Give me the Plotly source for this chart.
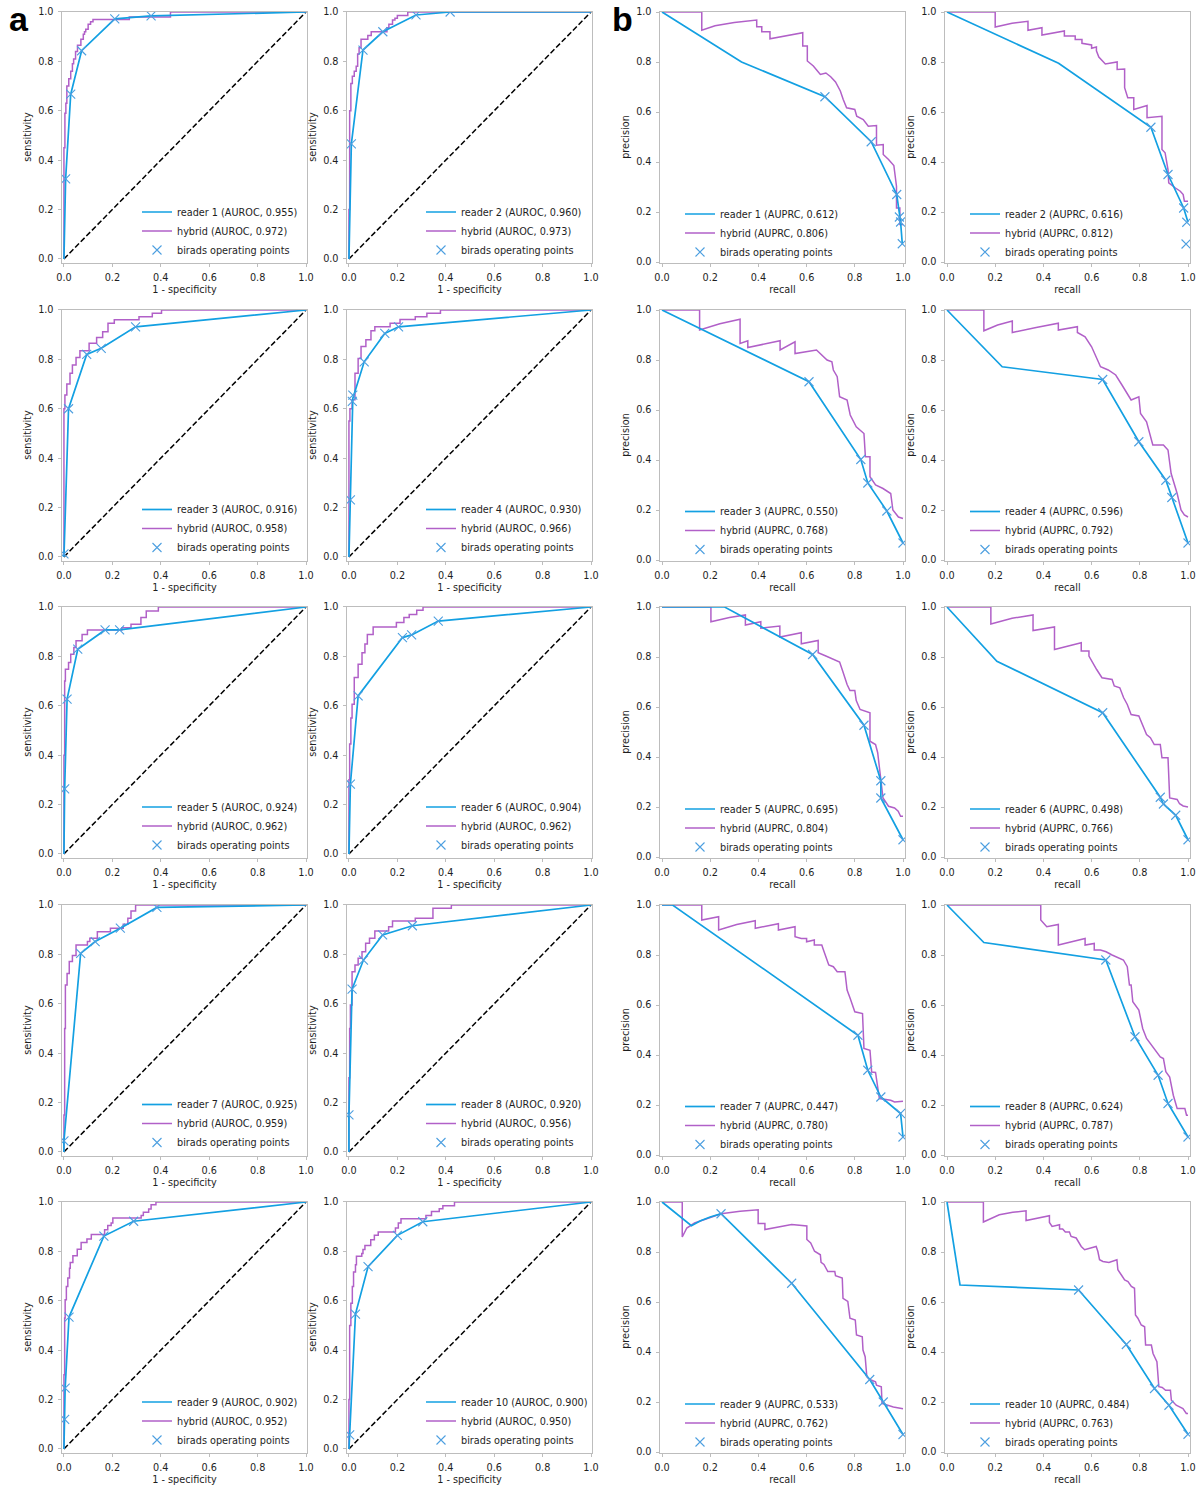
import plotly.graph_objects as go

# ---------------- data ----------------
reader_auroc = [0.955, 0.960, 0.916, 0.930, 0.924, 0.904, 0.925, 0.920, 0.902, 0.900]
hybrid_auroc = [0.972, 0.973, 0.958, 0.966, 0.962, 0.962, 0.959, 0.956, 0.952, 0.950]
reader_auprc = [0.612, 0.616, 0.550, 0.596, 0.695, 0.498, 0.447, 0.624, 0.533, 0.484]
hybrid_auprc = [0.806, 0.812, 0.768, 0.792, 0.804, 0.766, 0.780, 0.787, 0.762, 0.763]
tick_vals = [0.0, 0.2, 0.4, 0.6, 0.8, 1.0]
tick_text = ["0.0", "0.2", "0.4", "0.6", "0.8", "1.0"]
chance_line = [0.0, 1.0]

# ROC reader curves (fpr, tpr)
reader1_roc = [(0, 0), (0.007, 0.324), (0.028, 0.667), (0.073, 0.843), (0.21, 0.972), (0.36, 0.984), (1, 1)]
reader2_roc = [(0, 0), (0.01, 0.466), (0.058, 0.846), (0.14, 0.92), (0.277, 0.988), (0.418, 1.0), (1, 1)]
reader3_roc = [(0, 0), (0.019, 0.6), (0.094, 0.82), (0.154, 0.845), (0.296, 0.932), (1, 1)]
reader4_roc = [(0, 0), (0.006, 0.231), (0.016, 0.642), (0.063, 0.79), (0.148, 0.905), (0.205, 0.932), (1, 1)]
reader5_roc = [(0, 0), (0.003, 0.263), (0.013, 0.627), (0.057, 0.829), (0.17, 0.907), (0.23, 0.907), (1, 1)]
reader6_roc = [(0, 0), (0.006, 0.283), (0.038, 0.64), (0.221, 0.876), (0.259, 0.887), (0.369, 0.943), (1, 1)]
reader7_roc = [(0, 0), (0.0, 0.045), (0.069, 0.804), (0.129, 0.852), (0.233, 0.906), (0.384, 0.99), (1, 1)]
reader8_roc = [(0, 0), (0.0, 0.15), (0.013, 0.659), (0.06, 0.777), (0.139, 0.879), (0.262, 0.916), (1, 1)]
reader9_roc = [(0, 0), (0.003, 0.12), (0.005, 0.246), (0.021, 0.534), (0.165, 0.862), (0.288, 0.922), (1, 1)]
reader10_roc = [(0, 0), (0.003, 0.057), (0.027, 0.546), (0.079, 0.738), (0.2, 0.865), (0.305, 0.92), (1, 1)]

# ROC birads operating points
reader1_roc_ops = [(0.007, 0.324), (0.028, 0.667), (0.073, 0.843), (0.21, 0.972), (0.36, 0.984)]
reader2_roc_ops = [(0.01, 0.466), (0.058, 0.846), (0.14, 0.92), (0.277, 0.988), (0.418, 1.0)]
reader3_roc_ops = [(0.0, 0.012), (0.019, 0.6), (0.094, 0.82), (0.154, 0.845), (0.296, 0.932)]
reader4_roc_ops = [(0.006, 0.231), (0.014, 0.63), (0.016, 0.655), (0.063, 0.79), (0.148, 0.905), (0.205, 0.932)]
reader5_roc_ops = [(0.003, 0.263), (0.013, 0.627), (0.057, 0.829), (0.17, 0.907), (0.23, 0.907)]
reader6_roc_ops = [(0.006, 0.283), (0.038, 0.64), (0.221, 0.876), (0.259, 0.887), (0.369, 0.943)]
reader7_roc_ops = [(0.0, 0.045), (0.069, 0.804), (0.129, 0.852), (0.233, 0.906), (0.384, 0.99)]
reader8_roc_ops = [(0.0, 0.15), (0.013, 0.659), (0.06, 0.777), (0.139, 0.879), (0.262, 0.916)]
reader9_roc_ops = [(0.003, 0.12), (0.005, 0.246), (0.021, 0.534), (0.165, 0.862), (0.288, 0.922)]
reader10_roc_ops = [(0.003, 0.057), (0.027, 0.546), (0.079, 0.738), (0.2, 0.865), (0.305, 0.92)]

# ROC hybrid staircase corners (fpr, tpr), drawn with horizontal-then-vertical steps
hybrid1_roc = [(0, 0), (0, 0.45), (0.004, 0.59), (0.008, 0.63), (0.012, 0.7), (0.02, 0.73), (0.028, 0.76),
               (0.035, 0.79), (0.04, 0.81), (0.048, 0.84), (0.056, 0.865), (0.07, 0.89), (0.08, 0.91),
               (0.085, 0.92), (0.09, 0.93), (0.1, 0.95), (0.11, 0.96), (0.12, 0.97), (0.27, 0.98),
               (0.44, 1.0), (1.0, 1.0)]
hybrid2_roc = [(0, 0), (0, 0.2), (0.003, 0.6), (0.008, 0.71), (0.014, 0.74), (0.022, 0.76), (0.03, 0.78),
               (0.036, 0.83), (0.042, 0.855), (0.05, 0.89), (0.078, 0.905), (0.092, 0.92), (0.157, 0.936),
               (0.165, 0.95), (0.18, 0.968), (0.19, 0.975), (0.2, 0.986), (0.243, 1.0), (1.0, 1.0)]
hybrid3_roc = [(0, 0), (0, 0.6), (0.004, 0.656), (0.012, 0.7), (0.025, 0.744), (0.035, 0.777), (0.05, 0.808),
               (0.066, 0.835), (0.104, 0.865), (0.135, 0.889), (0.16, 0.912), (0.182, 0.946), (0.208, 0.96),
               (0.31, 0.973), (0.365, 0.987), (0.403, 1.0), (1.0, 1.0)]
hybrid4_roc = [(0, 0), (0, 0.55), (0.004, 0.6), (0.013, 0.636), (0.025, 0.744), (0.038, 0.804), (0.05, 0.852),
               (0.07, 0.879), (0.091, 0.916), (0.107, 0.932), (0.17, 0.946), (0.211, 0.962), (0.274, 0.973),
               (0.322, 0.987), (0.378, 1.0), (1.0, 1.0)]
hybrid5_roc = [(0, 0), (0, 0.4), (0.003, 0.7), (0.006, 0.748), (0.019, 0.775), (0.028, 0.809), (0.041, 0.836),
               (0.05, 0.863), (0.075, 0.889), (0.097, 0.907), (0.239, 0.916), (0.277, 0.93), (0.318, 0.957),
               (0.34, 0.984), (0.39, 1.0), (1.0, 1.0)]
hybrid6_roc = [(0, 0), (0, 0.3), (0.003, 0.445), (0.008, 0.55), (0.013, 0.606), (0.022, 0.714), (0.038, 0.768),
               (0.054, 0.815), (0.066, 0.85), (0.076, 0.889), (0.1, 0.919), (0.196, 0.937), (0.227, 0.957),
               (0.249, 0.97), (0.28, 0.987), (0.306, 1.0), (1.0, 1.0)]
hybrid7_roc = [(0, 0), (0, 0.15), (0.003, 0.5), (0.006, 0.676), (0.013, 0.723), (0.022, 0.771), (0.035, 0.795),
               (0.05, 0.838), (0.097, 0.852), (0.107, 0.865), (0.138, 0.892), (0.192, 0.906), (0.245, 0.922),
               (0.264, 0.946), (0.277, 0.976), (0.296, 1.0), (1.0, 1.0)]
hybrid8_roc = [(0, 0), (0, 0.3), (0.003, 0.5), (0.006, 0.595), (0.013, 0.73), (0.025, 0.757), (0.038, 0.784),
               (0.054, 0.811), (0.069, 0.845), (0.085, 0.865), (0.107, 0.895), (0.164, 0.912), (0.18, 0.935),
               (0.274, 0.946), (0.347, 0.987), (0.423, 1.0), (1.0, 1.0)]
hybrid9_roc = [(0, 0), (0, 0.3), (0.003, 0.53), (0.005, 0.604), (0.01, 0.658), (0.016, 0.692), (0.023, 0.732),
               (0.026, 0.755), (0.037, 0.782), (0.055, 0.809), (0.071, 0.836), (0.095, 0.85), (0.113, 0.868),
               (0.168, 0.888), (0.181, 0.905), (0.195, 0.915), (0.202, 0.935), (0.319, 0.945), (0.328, 0.958),
               (0.35, 0.972), (0.36, 0.989), (0.38, 1.0), (1.0, 1.0)]
hybrid10_roc = [(0, 0), (0, 0.2), (0.003, 0.5), (0.008, 0.59), (0.014, 0.658), (0.019, 0.716), (0.027, 0.746),
                (0.031, 0.78), (0.053, 0.791), (0.058, 0.808), (0.066, 0.824), (0.09, 0.847), (0.105, 0.865),
                (0.121, 0.878), (0.192, 0.895), (0.204, 0.915), (0.215, 0.932), (0.318, 0.945), (0.341, 0.962),
                (0.373, 0.973), (0.388, 0.985), (0.436, 1.0), (1.0, 1.0)]

# PR reader curves (recall, precision)
reader1_pr = [(0, 1), (0.33, 0.8), (0.676, 0.661), (0.868, 0.481), (0.974, 0.27), (0.985, 0.18), (0.99, 0.16), (0.997, 0.073)]
reader2_pr = [(0, 1), (0.463, 0.795), (0.846, 0.539), (0.917, 0.35), (0.982, 0.216), (1.0, 0.159)]
reader3_pr = [(0, 1), (0.61, 0.713), (0.825, 0.402), (0.854, 0.308), (0.933, 0.196), (1.0, 0.068)]
reader4_pr = [(0, 1), (0.229, 0.773), (0.646, 0.722), (0.796, 0.473), (0.908, 0.319), (0.933, 0.25), (1.0, 0.068)]
reader5_pr = [(0, 1), (0.26, 1.0), (0.625, 0.81), (0.838, 0.527), (0.908, 0.305), (0.908, 0.236), (1.0, 0.069)]
reader6_pr = [(0, 1), (0.207, 0.783), (0.646, 0.577), (0.885, 0.239), (0.898, 0.212), (0.949, 0.167), (1.0, 0.069)]
reader7_pr = [(0, 1), (0.044, 1.0), (0.813, 0.479), (0.854, 0.339), (0.908, 0.232), (0.99, 0.166), (1.0, 0.072)]
reader8_pr = [(0, 1), (0.153, 0.85), (0.659, 0.78), (0.78, 0.473), (0.876, 0.319), (0.917, 0.206), (1.0, 0.072)]
reader9_pr = [(0, 1), (0.122, 0.905), (0.16, 0.925), (0.2, 0.94), (0.245, 0.953), (0.538, 0.675), (0.862, 0.29), (0.918, 0.2), (1.0, 0.07)]
reader10_pr = [(0, 1), (0.054, 0.668), (0.546, 0.648), (0.744, 0.43), (0.861, 0.254), (0.921, 0.187), (1.0, 0.071)]

# PR birads operating points
reader1_pr_ops = [(0.676, 0.661), (0.868, 0.481), (0.974, 0.27), (0.985, 0.18), (0.99, 0.16), (0.997, 0.073)]
reader2_pr_ops = [(0.846, 0.539), (0.917, 0.35), (0.982, 0.216), (0.995, 0.159), (0.992, 0.072)]
reader3_pr_ops = [(0.61, 0.713), (0.825, 0.402), (0.854, 0.308), (0.933, 0.196), (1.0, 0.068)]
reader4_pr_ops = [(0.646, 0.722), (0.796, 0.473), (0.908, 0.319), (0.933, 0.25), (1.0, 0.068)]
reader5_pr_ops = [(0.625, 0.81), (0.838, 0.527), (0.908, 0.305), (0.908, 0.236), (1.0, 0.069)]
reader6_pr_ops = [(0.646, 0.577), (0.885, 0.239), (0.898, 0.212), (0.949, 0.167), (1.0, 0.069)]
reader7_pr_ops = [(0.813, 0.479), (0.854, 0.339), (0.908, 0.232), (0.99, 0.166), (1.0, 0.072)]
reader8_pr_ops = [(0.659, 0.78), (0.78, 0.473), (0.876, 0.319), (0.917, 0.206), (1.0, 0.072)]
reader9_pr_ops = [(0.245, 0.953), (0.538, 0.675), (0.862, 0.29), (0.918, 0.2), (1.0, 0.07)]
reader10_pr_ops = [(0.546, 0.648), (0.744, 0.43), (0.861, 0.254), (0.921, 0.187), (1.0, 0.071)]

# PR hybrid curves (recall, precision)
hybrid1_pr = [(0, 1), (0.165, 1), (0.165, 0.927), (0.22, 0.945), (0.3, 0.958), (0.393, 0.968), (0.393, 0.941),
              (0.414, 0.941), (0.414, 0.921), (0.448, 0.921), (0.448, 0.893), (0.52, 0.905), (0.584, 0.917),
              (0.584, 0.864), (0.603, 0.864), (0.603, 0.804), (0.615, 0.794), (0.628, 0.784), (0.64, 0.77),
              (0.657, 0.75), (0.68, 0.756), (0.7, 0.741), (0.72, 0.72), (0.74, 0.684), (0.752, 0.65),
              (0.766, 0.617), (0.8, 0.61), (0.808, 0.583), (0.835, 0.57), (0.856, 0.543), (0.89, 0.546),
              (0.89, 0.467), (0.918, 0.47), (0.918, 0.43), (0.94, 0.41), (0.953, 0.397), (0.962, 0.386),
              (0.973, 0.303), (0.973, 0.216), (0.987, 0.216), (0.987, 0.15), (1.0, 0.15)]
hybrid2_pr = [(0, 1), (0.2, 1), (0.2, 0.94), (0.27, 0.955), (0.336, 0.963), (0.336, 0.927), (0.394, 0.937),
              (0.394, 0.908), (0.487, 0.924), (0.487, 0.904), (0.532, 0.904), (0.532, 0.89), (0.56, 0.89),
              (0.56, 0.875), (0.6, 0.868), (0.6, 0.855), (0.62, 0.86), (0.62, 0.845), (0.63, 0.82),
              (0.64, 0.808), (0.657, 0.792), (0.706, 0.8), (0.706, 0.77), (0.737, 0.772), (0.737, 0.697),
              (0.75, 0.657), (0.775, 0.657), (0.775, 0.61), (0.83, 0.626), (0.83, 0.577), (0.892, 0.583),
              (0.892, 0.45), (0.905, 0.437), (0.917, 0.37), (0.92, 0.317), (0.948, 0.296), (0.968, 0.283),
              (0.98, 0.27), (0.985, 0.243), (1.0, 0.243)]
hybrid3_pr = [(0, 1), (0.156, 1), (0.156, 0.92), (0.24, 0.945), (0.324, 0.963), (0.324, 0.866), (0.356, 0.877),
              (0.356, 0.85), (0.49, 0.877), (0.49, 0.84), (0.552, 0.873), (0.552, 0.826), (0.641, 0.84),
              (0.665, 0.82), (0.685, 0.8), (0.705, 0.793), (0.711, 0.76), (0.727, 0.733), (0.737, 0.653),
              (0.768, 0.64), (0.781, 0.58), (0.806, 0.533), (0.838, 0.506), (0.844, 0.413), (0.863, 0.413),
              (0.863, 0.333), (0.886, 0.3), (0.917, 0.286), (0.949, 0.266), (0.958, 0.2), (0.981, 0.172),
              (1.0, 0.166)]
hybrid4_pr = [(0, 1), (0.153, 1), (0.153, 0.917), (0.21, 0.94), (0.271, 0.956), (0.271, 0.91), (0.37, 0.93),
              (0.462, 0.947), (0.462, 0.92), (0.541, 0.933), (0.541, 0.91), (0.573, 0.893), (0.6, 0.853),
              (0.62, 0.813), (0.637, 0.773), (0.669, 0.76), (0.7, 0.74), (0.726, 0.7), (0.748, 0.666),
              (0.764, 0.64), (0.796, 0.653), (0.803, 0.586), (0.828, 0.553), (0.844, 0.5), (0.854, 0.46),
              (0.898, 0.46), (0.917, 0.44), (0.93, 0.346), (0.955, 0.266), (0.971, 0.2), (0.985, 0.18),
              (1.0, 0.172)]
hybrid5_pr = [(0, 1), (0.203, 1), (0.203, 0.941), (0.28, 0.958), (0.346, 0.968), (0.346, 0.928), (0.41, 0.941),
              (0.41, 0.915), (0.489, 0.924), (0.489, 0.88), (0.578, 0.897), (0.578, 0.853), (0.648, 0.866),
              (0.648, 0.817), (0.68, 0.804), (0.711, 0.79), (0.737, 0.78), (0.75, 0.743), (0.768, 0.69),
              (0.78, 0.666), (0.8, 0.666), (0.806, 0.626), (0.822, 0.59), (0.863, 0.577), (0.863, 0.463),
              (0.886, 0.45), (0.895, 0.417), (0.908, 0.31), (0.917, 0.236), (0.94, 0.203), (0.965, 0.196),
              (0.98, 0.183), (0.99, 0.163), (1.0, 0.163)]
hybrid6_pr = [(0, 1), (0.182, 1), (0.182, 0.932), (0.27, 0.955), (0.357, 0.968), (0.357, 0.906), (0.446, 0.92),
              (0.446, 0.83), (0.557, 0.857), (0.557, 0.824), (0.589, 0.824), (0.589, 0.804), (0.621, 0.75),
              (0.643, 0.717), (0.685, 0.71), (0.694, 0.684), (0.717, 0.677), (0.733, 0.637), (0.748, 0.61),
              (0.764, 0.57), (0.796, 0.564), (0.812, 0.524), (0.828, 0.49), (0.844, 0.477), (0.86, 0.45),
              (0.885, 0.45), (0.892, 0.397), (0.917, 0.397), (0.924, 0.236), (0.955, 0.23), (0.965, 0.213),
              (0.98, 0.204), (1.0, 0.2)]
hybrid7_pr = [(0, 1), (0.165, 1), (0.165, 0.94), (0.235, 0.953), (0.235, 0.9), (0.31, 0.922), (0.387, 0.937),
              (0.387, 0.907), (0.483, 0.925), (0.483, 0.9), (0.552, 0.913), (0.552, 0.873), (0.578, 0.866),
              (0.6, 0.866), (0.6, 0.853), (0.632, 0.86), (0.632, 0.84), (0.663, 0.84), (0.67, 0.82),
              (0.683, 0.786), (0.692, 0.76), (0.711, 0.753), (0.727, 0.733), (0.759, 0.733), (0.768, 0.66),
              (0.781, 0.626), (0.8, 0.573), (0.832, 0.566), (0.838, 0.426), (0.863, 0.419), (0.87, 0.332),
              (0.886, 0.33), (0.895, 0.272), (0.902, 0.226), (0.949, 0.219), (0.965, 0.212), (1.0, 0.215)]
hybrid8_pr = [(0, 1), (0.389, 1), (0.389, 0.94), (0.414, 0.913), (0.462, 0.922), (0.462, 0.84), (0.573, 0.866),
              (0.573, 0.84), (0.611, 0.846), (0.611, 0.82), (0.637, 0.82), (0.66, 0.813), (0.685, 0.8),
              (0.71, 0.789), (0.732, 0.78), (0.748, 0.753), (0.757, 0.68), (0.764, 0.68), (0.771, 0.613),
              (0.796, 0.58), (0.812, 0.506), (0.828, 0.466), (0.844, 0.446), (0.86, 0.426), (0.885, 0.392),
              (0.898, 0.386), (0.908, 0.333), (0.924, 0.312), (0.939, 0.239), (0.955, 0.186), (0.987, 0.186),
              (0.994, 0.159), (1.0, 0.159)]
hybrid9_pr = [(0, 1), (0.084, 1), (0.084, 0.86), (0.103, 0.896), (0.135, 0.916), (0.182, 0.932), (0.245, 0.953),
              (0.324, 0.963), (0.399, 0.969), (0.399, 0.914), (0.427, 0.914), (0.427, 0.89), (0.538, 0.91),
              (0.601, 0.904), (0.601, 0.85), (0.617, 0.836), (0.633, 0.803), (0.657, 0.789), (0.66, 0.759),
              (0.672, 0.75), (0.688, 0.722), (0.717, 0.722), (0.72, 0.705), (0.748, 0.696), (0.751, 0.615),
              (0.771, 0.602), (0.78, 0.535), (0.802, 0.528), (0.807, 0.468), (0.831, 0.461), (0.834, 0.408),
              (0.843, 0.381), (0.85, 0.301), (0.862, 0.29), (0.886, 0.281), (0.89, 0.267), (0.91, 0.261),
              (0.913, 0.194), (0.94, 0.187), (0.96, 0.18), (1.0, 0.173)]
hybrid10_pr = [(0, 1), (0.151, 1), (0.151, 0.92), (0.217, 0.949), (0.273, 0.959), (0.328, 0.965), (0.328, 0.926),
               (0.425, 0.945), (0.425, 0.918), (0.436, 0.902), (0.467, 0.909), (0.467, 0.892), (0.48, 0.892),
               (0.491, 0.88), (0.508, 0.88), (0.515, 0.862), (0.536, 0.856), (0.547, 0.836), (0.557, 0.822),
               (0.571, 0.809), (0.619, 0.822), (0.626, 0.802), (0.633, 0.769), (0.647, 0.762), (0.672, 0.758),
               (0.705, 0.769), (0.709, 0.729), (0.723, 0.709), (0.737, 0.688), (0.751, 0.682), (0.765, 0.662),
               (0.778, 0.655), (0.782, 0.548), (0.792, 0.535), (0.806, 0.508), (0.82, 0.501), (0.824, 0.428),
               (0.848, 0.428), (0.855, 0.394), (0.871, 0.361), (0.879, 0.261), (0.893, 0.258), (0.907, 0.247),
               (0.927, 0.247), (0.931, 0.207), (0.951, 0.187), (0.979, 0.174), (0.993, 0.154), (1.0, 0.154)]

reader_roc = [reader1_roc, reader2_roc, reader3_roc, reader4_roc, reader5_roc,
              reader6_roc, reader7_roc, reader8_roc, reader9_roc, reader10_roc]
reader_roc_ops = [reader1_roc_ops, reader2_roc_ops, reader3_roc_ops, reader4_roc_ops, reader5_roc_ops,
                  reader6_roc_ops, reader7_roc_ops, reader8_roc_ops, reader9_roc_ops, reader10_roc_ops]
hybrid_roc = [hybrid1_roc, hybrid2_roc, hybrid3_roc, hybrid4_roc, hybrid5_roc,
              hybrid6_roc, hybrid7_roc, hybrid8_roc, hybrid9_roc, hybrid10_roc]
reader_pr = [reader1_pr, reader2_pr, reader3_pr, reader4_pr, reader5_pr,
             reader6_pr, reader7_pr, reader8_pr, reader9_pr, reader10_pr]
reader_pr_ops = [reader1_pr_ops, reader2_pr_ops, reader3_pr_ops, reader4_pr_ops, reader5_pr_ops,
                 reader6_pr_ops, reader7_pr_ops, reader8_pr_ops, reader9_pr_ops, reader10_pr_ops]
hybrid_pr = [hybrid1_pr, hybrid2_pr, hybrid3_pr, hybrid4_pr, hybrid5_pr,
             hybrid6_pr, hybrid7_pr, hybrid8_pr, hybrid9_pr, hybrid10_pr]

# ---------------- styling / layout ----------------
W, H = 1198, 1485
BLUE = "#13a0e2"
PURPLE = "#b160c8"
MARK = "#4d9fe0"
FRAME = "#bdbdbd"
TXT = "#1e1e1e"
FONT = "DejaVu Sans"
FS = 9.7

col_frames = [(62, 307), (347, 592), (660, 905), (945, 1190)]
row_tops = [11.5, 309.5, 606.5, 904.5, 1201.5]
FRAME_H = 251
legend_text_x = [178, 462, 721, 1006]
legend_mid_y = {"roc": 231, "pr": 233}
ROW_STEP = 297.5


def unzip(pts):
    return [p[0] for p in pts], [p[1] for p in pts]


fig = go.Figure()
layout = dict(width=W, height=H, margin=dict(l=0, r=0, t=0, b=0, pad=0, autoexpand=False),
              paper_bgcolor="white", plot_bgcolor="white",
              font=dict(family=FONT, size=FS, color=TXT))

axis_base = dict(showline=True, mirror=True, linecolor=FRAME, linewidth=1,
                 ticks="outside", ticklen=3.5, tickwidth=1, tickcolor=FRAME,
                 showgrid=False, zeroline=False, tickvals=tick_vals, ticktext=tick_text,
                 tickfont=dict(family=FONT, size=FS, color=TXT), fixedrange=True,
                 automargin=False, ticklabelstandoff=2)

for k in range(10):
    row = k // 2
    for kind in ("roc", "pr"):
        col = (k % 2) + (0 if kind == "roc" else 2)
        n = row * 4 + col + 1
        xa = "x" if n == 1 else f"x{n}"
        ya = "y" if n == 1 else f"y{n}"
        lg = "legend" if n == 1 else f"legend{n}"
        x0, x1 = col_frames[col]
        top = row_tops[row]
        xdom = [x0 / W, x1 / W]
        ydom = [1 - (top + FRAME_H) / H, 1 - top / H]
        if kind == "roc":
            xr, yr = [-0.008, 1.004], [-0.0145, 1.002]
            xt, yt = "1 - specificity", "sensitivity"
        else:
            xr, yr = [-0.0083, 1.0083], [-0.002, 1.002]
            xt, yt = "recall", "precision"
        layout["xaxis" if n == 1 else f"xaxis{n}"] = dict(
            axis_base, domain=xdom, range=xr, anchor=ya,
            title=dict(text=xt, font=dict(family=FONT, size=FS, color=TXT), standoff=4))
        layout["yaxis" if n == 1 else f"yaxis{n}"] = dict(
            axis_base, domain=ydom, range=yr, anchor=xa,
            title=dict(text=yt, font=dict(family=FONT, size=FS, color=TXT), standoff=4))
        ly = legend_mid_y[kind] + row * ROW_STEP
        layout[lg] = dict(x=(legend_text_x[col] - 41) / W, y=1 - ly / H,
                          xanchor="left", yanchor="middle", bgcolor="rgba(0,0,0,0)",
                          borderwidth=0, font=dict(family=FONT, size=FS, color=TXT),
                          traceorder="normal")

        if kind == "roc":
            fig.add_trace(go.Scatter(x=chance_line, y=chance_line, mode="lines", xaxis=xa, yaxis=ya,
                                     line=dict(color="black", width=1.5, dash="5.5px,2.5px"),
                                     showlegend=False, hoverinfo="skip"))
            hx, hy = unzip(hybrid_roc[k])
            rx, ry = unzip(reader_roc[k])
            ox, oy = unzip(reader_roc_ops[k])
            rname = f"reader {k + 1} (AUROC, {reader_auroc[k]:.3f})"
            hname = f"hybrid (AUROC, {hybrid_auroc[k]:.3f})"
            hshape = "hv"
        else:
            hx, hy = unzip(hybrid_pr[k])
            rx, ry = unzip(reader_pr[k])
            ox, oy = unzip(reader_pr_ops[k])
            rname = f"reader {k + 1} (AUPRC, {reader_auprc[k]:.3f})"
            hname = f"hybrid (AUPRC, {hybrid_auprc[k]:.3f})"
            hshape = "linear"

        fig.add_trace(go.Scatter(x=hx, y=hy, mode="lines", xaxis=xa, yaxis=ya, legend=lg,
                                 line=dict(color=PURPLE, width=1.5, shape=hshape),
                                 name=hname, legendrank=2))
        fig.add_trace(go.Scatter(x=rx, y=ry, mode="lines", xaxis=xa, yaxis=ya, legend=lg,
                                 line=dict(color=BLUE, width=1.7),
                                 name=rname, legendrank=1))
        fig.add_trace(go.Scatter(x=ox, y=oy, mode="markers", xaxis=xa, yaxis=ya, legend=lg,
                                 marker=dict(symbol="x-thin", size=9, color=MARK,
                                             line=dict(width=1.1, color=MARK)),
                                 name="birads operating points", legendrank=3))

layout["annotations"] = [
    dict(text="a", x=19 / W, y=1 - 19 / H, xref="paper", yref="paper", showarrow=False,
         xanchor="center", yanchor="middle",
         font=dict(family="Liberation Sans", size=34, color="black", weight="bold")),
    dict(text="b", x=622 / W, y=1 - 19 / H, xref="paper", yref="paper", showarrow=False,
         xanchor="center", yanchor="middle",
         font=dict(family="Liberation Sans", size=34, color="black", weight="bold")),
]
fig.update_layout(**layout)
# remove the browser's default 8px page margin so the 1198x1485 figure fills the window exactly
fig.write_html("out.html", config={"displayModeBar": False},
               post_script="document.body.style.margin='0px';document.body.style.overflow='hidden';")
